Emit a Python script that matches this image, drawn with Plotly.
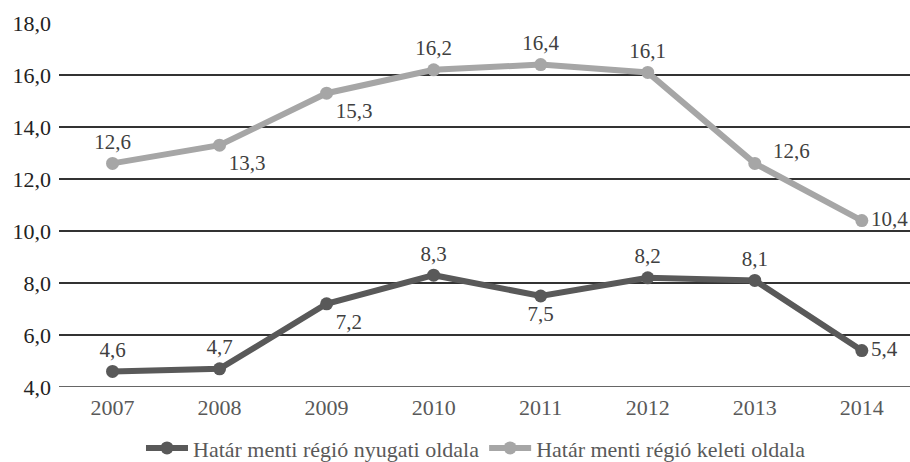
import plotly.graph_objects as go

years = ["2007", "2008", "2009", "2010", "2011", "2012", "2013", "2014"]
nyugati = [4.6, 4.7, 7.2, 8.3, 7.5, 8.2, 8.1, 5.4]
keleti = [12.6, 13.3, 15.3, 16.2, 16.4, 16.1, 12.6, 10.4]
nyugati_pos = ["top center", "top center", "bottom right", "top center",
               "bottom center", "top center", "top center", "middle right"]
keleti_pos = ["top center", "bottom right", "bottom right", "top center",
              "top center", "top center", "top right", "middle right"]

xi = list(range(len(years)))
FONT = "'Liberation Serif', 'Times New Roman', 'DejaVu Serif', serif"
LABEL_FONT = dict(family=FONT, size=21, color="#404040")

# the 2013 label of the light series sits right of its marker, slightly raised
keleti_text = ["" if i == 6 else f"{v:.1f}".replace(".", ",") for i, v in enumerate(keleti)]

fig = go.Figure()
fig.add_trace(go.Scatter(
    x=xi, y=nyugati, mode="lines+markers+text",
    name="Határ menti régió nyugati oldala",
    line=dict(color="#595959", width=6),
    marker=dict(size=13, color="#595959"),
    texttemplate="%{y:.1f}", textposition=nyugati_pos,
    textfont=LABEL_FONT,
))
fig.add_trace(go.Scatter(
    x=xi, y=keleti, mode="lines+markers+text",
    name="Határ menti régió keleti oldala",
    line=dict(color="#a6a6a6", width=6),
    marker=dict(size=13, color="#a6a6a6"),
    text=keleti_text, textposition=keleti_pos,
    textfont=LABEL_FONT,
))
fig.add_annotation(x=xi[6], y=keleti[6], text=f"{keleti[6]:.1f}".replace(".", ","),
                   showarrow=False, xanchor="left", yanchor="middle",
                   xshift=16, yshift=12, font=LABEL_FONT)

fig.update_layout(
    width=910, height=462,
    margin=dict(l=59, r=0, t=23, b=75),
    paper_bgcolor="white", plot_bgcolor="white",
    separators=", ",
    font=dict(family=FONT, color="#404040"),
    showlegend=True,
    legend=dict(orientation="h", x=0.49, xanchor="center",
                yref="container", y=0.03, yanchor="middle",
                font=dict(family=FONT, size=22, color="#595959"),
                itemwidth=42, tracegroupgap=0),
    xaxis=dict(range=[-0.5, 7.45], tickvals=xi, ticktext=years,
               showgrid=False, zeroline=False, showline=False, ticks="",
               ticklabelstandoff=5,
               tickfont=dict(family=FONT, size=22, color="#595959")),
    yaxis=dict(range=[4, 18], dtick=2, tickformat=".1f",
               showgrid=True, gridcolor="#333333", gridwidth=1.5,
               zeroline=False, showline=False, ticks="", ticklen=0,
               ticklabelstandoff=7,
               tickfont=dict(family=FONT, size=22, color="#222222")),
)
fig.add_hline(y=4, line=dict(color="#333333", width=1.5))

fig.write_html("out.html", config={"displayModeBar": False},
               post_script="document.body.style.margin='0';document.body.style.padding='0';")
